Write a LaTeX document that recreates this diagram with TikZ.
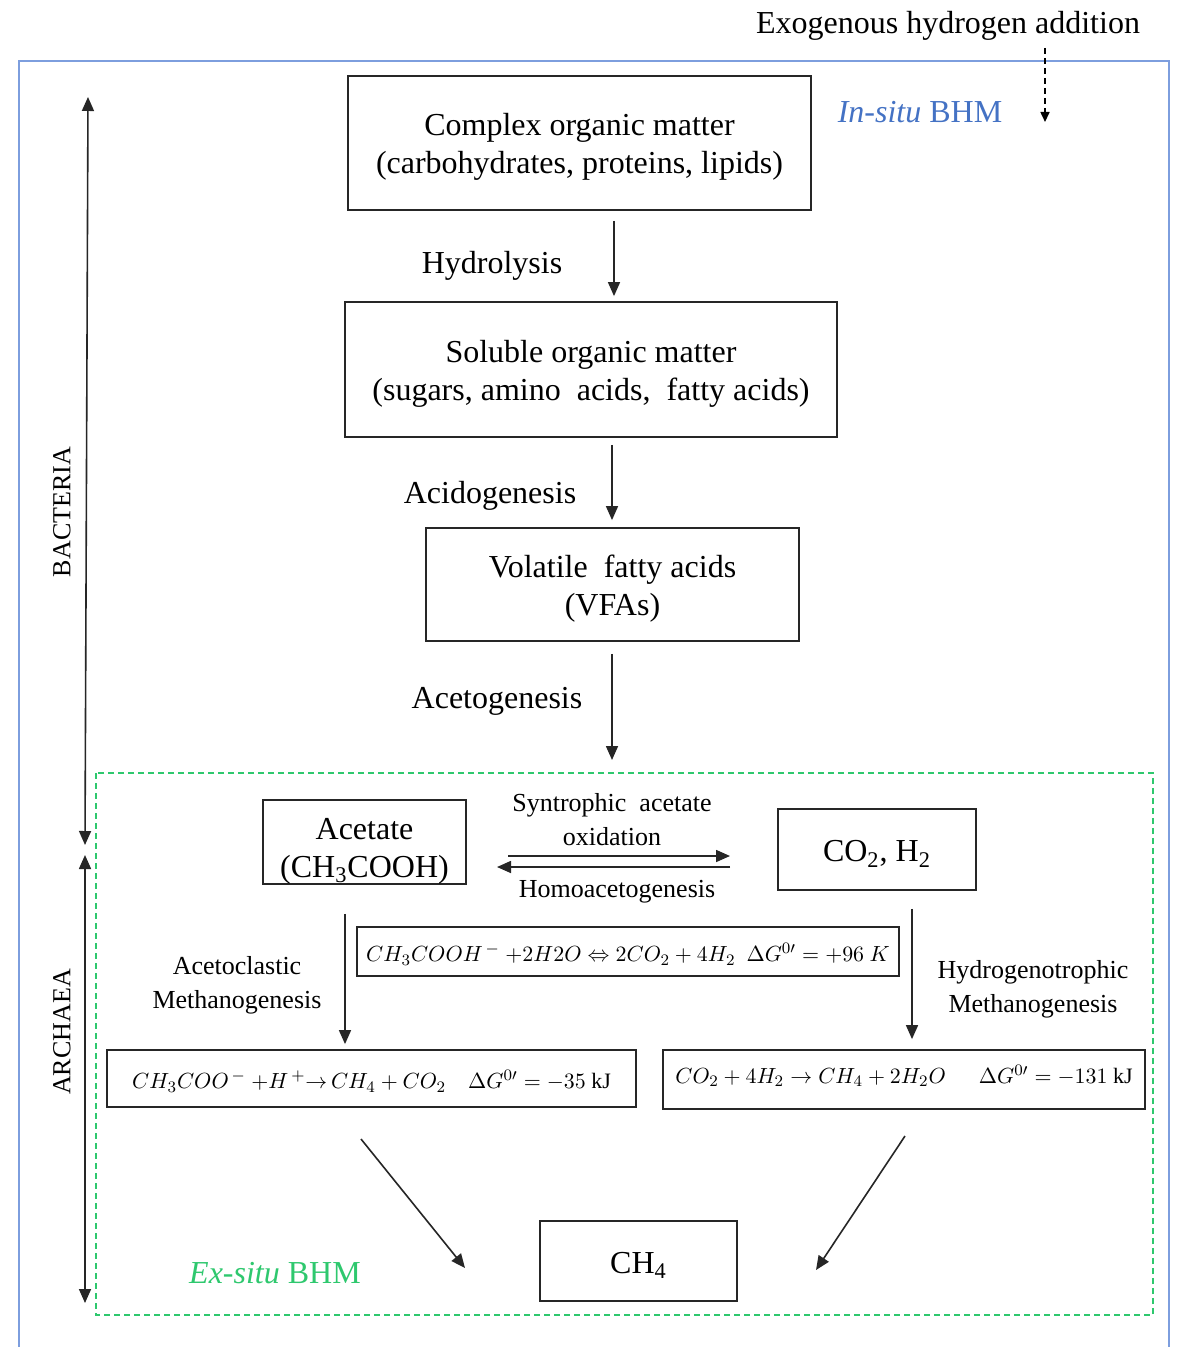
\documentclass[tikz,border=0pt]{standalone}
\usepackage{fontspec}
\setmainfont{Liberation Serif}
\usetikzlibrary{arrows.meta}
\definecolor{frameblue}{RGB}{125,158,222}
\definecolor{textblue}{RGB}{68,114,196}
\definecolor{bhmgreen}{RGB}{46,200,110}
\newcommand{\topstrut}{\rule{0pt}{15pt}}
\newcommand{\eqstrut}{\rule{0pt}{12pt}}
\begin{document}
\begin{tikzpicture}[x=0.5pt,y=-0.5pt,
  box/.style={draw=black!85, line width=0.9pt, inner sep=0pt},
  main/.style={font=\fontsize{16}{19}\selectfont, align=center},
  small/.style={font=\fontsize{13}{17}\selectfont, align=center},
  eqf/.style={font=\fontsize{11}{13}\selectfont},
  arr/.style={-{Triangle[length=7pt,width=6pt]}, line width=0.8pt, black!85},
  darr/.style={{Triangle[length=7pt,width=6pt]}-{Triangle[length=7pt,width=6pt]}, line width=0.8pt, black!85}
]
\useasboundingbox (0,0) rectangle (1178,1347);
\fill[white] (0,0) rectangle (1178,1347);

% frames
\draw[frameblue, line width=1pt] (19,1347) -- (19,61) -- (1169,61) -- (1169,1347);
\draw[bhmgreen, line width=1pt, dash pattern=on 3pt off 2pt] (96,773) rectangle (1153,1315);

% top labels
\node[main, yshift=-2pt] (exo) at (948,22) {Exogenous hydrogen addition};
\coordinate (exoS) at (1045,48);
\coordinate (exoE) at (1045,122);
\draw[-{Triangle[length=5pt,width=4.5pt]}, line width=0.8pt, dash pattern=on 3pt off 2pt] (exoS) -- (exoE);
\node[main, text=textblue] (insitu) at (920,112) {\textit{In-situ} BHM};

% main chain
\node[box, main, minimum width=231.5pt, minimum height=67pt] (b1) at (579.5,143) {\topstrut Complex organic matter\\(carbohydrates, proteins, lipids)};
\node[box, main, minimum width=246pt, minimum height=67.5pt] (b2) at (591,369.5) {\topstrut Soluble organic matter\\(sugars, amino\ \ acids,\ \ fatty acids)};
\node[box, main, minimum width=186.5pt, minimum height=56.5pt] (b3) at (612.5,584.5) {\topstrut Volatile\ \ fatty acids\\(VFAs)};

\coordinate (c614) at (614,0);
\coordinate (c612) at (612,0);
\draw[arr, shorten <=5pt, shorten >=2.5pt] (b1.south -| c614) -- (b2.north -| c614);
\draw[arr, shorten <=3.5pt, shorten >=3.5pt] (b2.south -| c612) -- (b3.north -| c612);
\coordinate (acE) at (612,760);
\draw[arr] (b3.south -| c612) ++(0,12) -- (acE);

\node[main, yshift=-2pt] (hyd) at (492,262) {Hydrolysis};
\node[main, yshift=-2pt] (acid) at (490,492) {Acidogenesis};
\node[main, yshift=-2pt] (acet) at (497,697) {Acetogenesis};

% archaea part
\node[box, main, minimum width=101.5pt, minimum height=42pt, text depth=2pt] (acetate) at (364.5,842) {\rule{0pt}{18pt}Acetate\\(CH\textsubscript{3}COOH)};
\node[box, main, minimum width=99pt, minimum height=40.5pt] (co2) at (877,849.5) {\topstrut CO\textsubscript{2}, H\textsubscript{2}};

\node[small, yshift=-0.5pt] (synt) at (612,819) {Syntrophic\ \ acetate\\oxidation};
\node[small, yshift=-1.5pt] (homo) at (617,889) {Homoacetogenesis};
\coordinate (s1) at (508,856);
\coordinate (s2) at (730,856);
\coordinate (h1) at (497,867);
\coordinate (h2) at (730,867);
\draw[arr] (s1) -- (s2);
\draw[arr] (h2) -- (h1);

\node[box, eqf, minimum width=271pt, minimum height=24.5pt] (eqm) at (628,951.5)
  {\eqstrut$CH_3COOH^{\,-}\ {+}2H2O \Leftrightarrow 2CO_2 + 4H_2\ \ \Delta G^{0\prime} = +96\ K$};
\node[box, eqf, minimum width=264.5pt, minimum height=28.5pt] (eql) at (371.5,1078.5)
  {\eqstrut$CH_3COO^{\,-}\ {+}H^{\,+}{\rightarrow}\,CH_4 + CO_2\quad \Delta G^{0\prime} = -35\ \mathrm{kJ}$};
\node[box, eqf, minimum width=241pt, minimum height=29.5pt] (eqr) at (904,1079.5)
  {\raisebox{5.5pt}{$CO_2 + 4H_2 \rightarrow CH_4 + 2H_2O\quad\ \ \Delta G^{0\prime} = -131\ \mathrm{kJ}$}};

\node[small, yshift=-1.5pt] (acl) at (237,982) {Acetoclastic\\Methanogenesis};
\node[small, yshift=-1pt] (hyl) at (1033,987) {Hydrogenotrophic\\Methanogenesis};

\coordinate (c345) at (345,0);
\coordinate (c912) at (912,0);
\draw[arr, shorten <=14.5pt, shorten >=2.5pt] (acetate.south -| c345) -- (eql.north -| c345);
\draw[arr, shorten <=9pt, shorten >=5pt] (co2.south -| c912) -- (eqr.north -| c912);

\node[box, main, minimum width=98.5pt, minimum height=40pt] (ch4) at (638.5,1261) {\topstrut CH\textsubscript{4}};
\coordinate (dl1) at (361,1139);
\coordinate (dl2) at (465,1268);
\coordinate (dr1) at (905,1136);
\coordinate (dr2) at (816,1270);
\draw[arr] (dl1) -- (dl2);
\draw[arr] (dr1) -- (dr2);

\node[main, text=bhmgreen] (exsitu) at (275,1273) {\textit{Ex-situ} BHM};

% left side
\coordinate (bt) at (88,97);
\coordinate (bb) at (85,845);
\coordinate (at) at (85,855);
\coordinate (ab) at (85,1303);
\draw[darr] (bt) -- (bb);
\draw[darr] (at) -- (ab);
\node[small, rotate=90] (bact) at (62,512) {BACTERIA};
\node[small, rotate=90] (arch) at (62,1032) {ARCHAEA};
\end{tikzpicture}
\end{document}
